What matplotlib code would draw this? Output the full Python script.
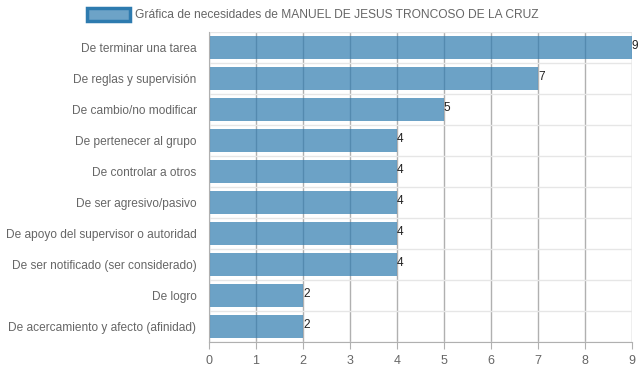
#!/usr/bin/env python3

import matplotlib.pyplot as plt
from matplotlib.patches import Rectangle

# data
categories = [
    "De terminar una tarea",
    "De reglas y supervisión",
    "De cambio/no modificar",
    "De pertenecer al grupo",
    "De controlar a otros",
    "De ser agresivo/pasivo",
    "De apoyo del supervisor o autoridad",
    "De ser notificado (ser considerado)",
    "De logro",
    "De acercamiento y afecto (afinidad)",
]
values = [9, 7, 5, 4, 4, 4, 4, 4, 2, 2]
x_ticks = list(range(0, 10))
legend_label = "Gráfica de necesidades de MANUEL DE JESUS TRONCOSO DE LA CRUZ"

plt.rcParams["font.family"] = ["Liberation Sans", "DejaVu Sans"]

fig = plt.figure(figsize=(6.39, 3.72), dpi=100)
ax = fig.add_axes([209 / 639, 1 - 342 / 372, 423 / 639, 310 / 372])

n = len(categories)
pos = list(range(n))

# grid behind the (semi-transparent) bars
for t in x_ticks:
    ax.axvline(t, color="#b0b0b0", linewidth=1, zorder=0)
for i in range(n + 1):
    ax.axhline(i - 0.5, color="#e6e6e6", linewidth=1, zorder=0)

ax.barh(pos, values, height=0.72, color="#2E7BAF", alpha=0.7,
        linewidth=0, zorder=1)

for p, v in zip(pos, values):
    ax.text(v, p - 0.05, str(v), ha="left", va="center", fontsize=8.6,
            color="#222222", zorder=3)

ax.set_xlim(0, 9)
ax.set_ylim(n - 0.5, -0.5)
ax.set_xticks(x_ticks)
ax.set_yticks(pos)
ax.set_yticklabels(categories)
ax.tick_params(axis="x", colors="#b0b0b0", labelcolor="#666666",
               labelsize=9, length=5, pad=4)
ax.tick_params(axis="y", length=0, labelcolor="#666666", labelsize=8.6, pad=9)

for side in ["top", "right"]:
    ax.spines[side].set_visible(False)
ax.spines["left"].set_color("#b0b0b0")
ax.spines["bottom"].set_color("#b0b0b0")

# legend drawn like the chart.js box at the top
fig.patches.append(Rectangle((87 / 639, 1 - 21 / 372), 43 / 639, 13 / 372,
                             transform=fig.transFigure, facecolor="#6DA3C7",
                             edgecolor="#2E7BAF", linewidth=2.5))
fig.text(135 / 639, 1 - 14.5 / 372, legend_label, ha="left", va="center",
         fontsize=8.65, color="#666666")

fig.savefig("out.png", dpi=100)
